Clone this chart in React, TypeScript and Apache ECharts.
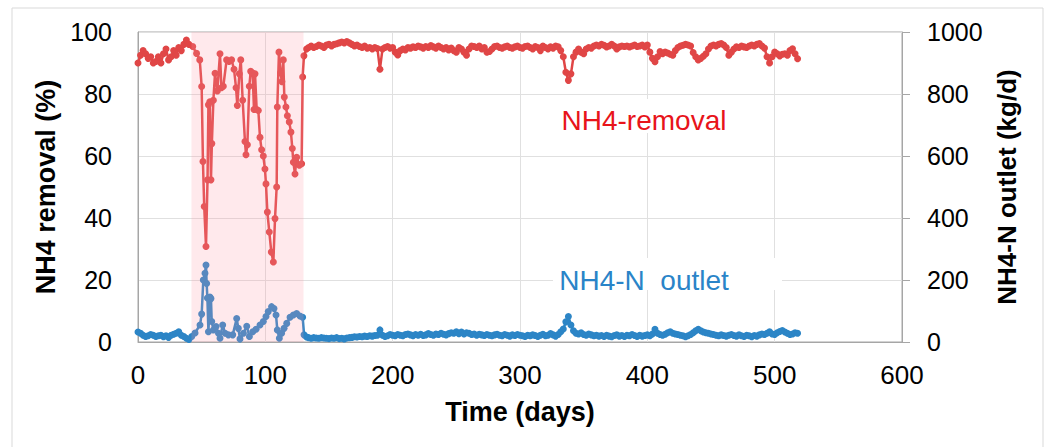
import React, { useEffect, useRef } from "react";
import * as echarts from "echarts";

// NH4 removal (%) – [day, value]
const removalPoints: [number, number][] = [
  [0, 90], [2, 92.5], [4, 94], [6, 93], [8, 91.5], [10, 92], [12, 90], [14, 90.5], [16, 92], [18, 90],
  [20, 93], [22, 94.5], [24, 91], [26, 92], [28, 94], [30, 92.5], [32, 95], [34, 94], [36, 96], [38, 97.4], [40, 96],
  [43, 95.3], [46, 93.1], [48.5, 91], [50, 82.4], [51, 58.2], [52, 43.7], [53.4, 30.8], [54.6, 52.3], [55.3, 76.5],
  [56.4, 77.5], [57.3, 52.3], [58, 64], [59.2, 78], [60.5, 86.7], [62.3, 81], [64.4, 93], [65.5, 82], [67, 82.5],
  [69.6, 91], [71.5, 90.5], [73.5, 91], [75.4, 88], [77, 82], [78, 76.3], [79.6, 86.5], [80.7, 91], [82.2, 78],
  [84, 64.7], [84.8, 60.4], [85.9, 63.6], [87.4, 82.5], [88.5, 87.3], [90, 86.8], [91.1, 75], [91.9, 86.5],
  [93.2, 75], [94.5, 74.7], [95.8, 66], [97.1, 62], [98.4, 60], [99.7, 55.8], [100.5, 51], [101.6, 41.9],
  [103.1, 35.5], [104.7, 29], [106.3, 25.8], [107.6, 39.8], [108.9, 50], [109.4, 75.8], [110.7, 93.5], [112, 86.8],
  [113, 84], [114.1, 91], [114.9, 79], [116.2, 75.8], [117.3, 73], [118.8, 71], [120.1, 67.7], [121.2, 62.4],
  [122, 58], [123.3, 54.2], [124.6, 59.6], [126.7, 57], [128.5, 57.5], [129.3, 85.5], [130.3, 92.3], [132.4, 94.5],
  [134, 95], [136, 95.5], [138, 95], [140, 95.3], [142, 95.8], [144, 95.5], [146, 95], [148, 95.8], [150, 96],
  [152, 95.5], [154, 96], [156, 96.2], [158, 96.5], [160, 96.8], [162, 96.5], [164, 96.9], [166, 96.5], [168, 96],
  [170, 95.5], [172, 95.8], [174, 95.3], [176, 95], [178, 95.5], [180, 94.8], [182, 95], [184, 94.5], [186, 95],
  [188, 94.7], [190, 88], [192, 94.5], [194, 95], [196, 95.3], [198, 94.8], [200, 95], [202, 93.5], [204, 92.6],
  [206, 94], [208, 94.5], [210, 94.2], [212, 95], [214, 94.8], [216, 95.2], [218, 95], [220, 95.5], [222, 95.2],
  [224, 94.8], [226, 95.3], [228, 95], [230, 95.6], [232, 95.2], [234, 94.8], [236, 95.5], [238, 95], [240, 94.5],
  [242, 95], [244, 94.2], [246, 94.8], [248, 94], [250, 93.5], [252, 95], [254, 94.5], [256, 93.5], [258, 92.5],
  [260, 94.5], [262, 95.5], [264, 95.3], [266, 95], [268, 95.5], [270, 94.5], [272, 95], [274, 93.5], [276, 93.7],
  [278, 94.5], [280, 95.3], [282, 95.5], [284, 95], [286, 94.8], [288, 95.2], [290, 95.5], [292, 95], [294, 94.8],
  [296, 95.2], [298, 95.5], [300, 95], [302, 94.8], [304, 95.3], [306, 95.5], [308, 95], [310, 94.5], [312, 95.3],
  [314, 95], [316, 94], [318, 95.5], [320, 95], [322, 94.5], [324, 95.2], [326, 94.8], [328, 95.5], [330, 95.2],
  [332, 94], [334, 92], [336, 87], [338, 84.4], [340, 86.5], [342, 92], [344, 93.5], [346, 94.5], [348, 93.5],
  [350, 93], [352, 94.5], [354, 95], [356, 94.8], [358, 95.5], [360, 95.8], [362, 95.5], [364, 96], [366, 95.7],
  [368, 95.2], [370, 95.5], [372, 96], [374, 95.5], [376, 94.5], [378, 95.2], [380, 95.5], [382, 95.3], [384, 95.5],
  [386, 95.2], [388, 95.5], [390, 95.8], [392, 95.3], [394, 95.5], [396, 95.8], [398, 95.2], [400, 95.8], [402, 93.5],
  [404, 91.5], [406, 90.4], [408, 92], [410, 93.7], [412, 93], [414, 93.5], [416, 93.2], [418, 92.8], [420, 92.5],
  [422, 94], [424, 95], [426, 95.5], [428, 95.7], [430, 96], [432, 95.8], [434, 95.5], [436, 93.4], [438, 92],
  [440, 91], [442, 91.5], [444, 92.2], [446, 93], [448, 94.5], [450, 95.5], [452, 95.8], [454, 95.5], [456, 96],
  [458, 96.3], [460, 95.8], [462, 95], [464, 92.5], [466, 93.5], [468, 94.5], [470, 95.2], [472, 95], [474, 95.5],
  [476, 95.2], [478, 95], [480, 95.5], [482, 95.8], [484, 95.5], [486, 96], [488, 96.3], [490, 95.5], [492, 94.8],
  [494, 92], [496, 90], [498, 92], [500, 93.5], [502, 93], [504, 92.3], [506, 92.8], [508, 93], [510, 92.5],
  [512, 94], [514, 94.6], [516, 93], [518, 91.4],
];

// NH4-N outlet (kg/d) – [day, value]
const outletPoints: [number, number][] = [
  [0, 32], [2, 28], [4, 22], [6, 18], [8, 20], [10, 24], [12, 22], [14, 18], [16, 20], [18, 22], [20, 17],
  [22, 20], [24, 15], [26, 22], [28, 25], [30, 28], [32, 33], [34, 22], [36, 18], [38, 12], [40, 8],
  [42.2, 18], [44.8, 29], [48.7, 55], [50, 90], [51.3, 200], [52.6, 222], [53.4, 248], [53.9, 189], [54.5, 142],
  [55.3, 33], [56.5, 145], [57.3, 140], [57.9, 66], [59.2, 39], [61.3, 50], [63.2, 28], [64.4, 12], [66.5, 55],
  [68.4, 28], [71, 23], [74.4, 23], [77.5, 76], [78.8, 44], [80.1, 10], [82.8, 28], [85.4, 51], [87.5, 18],
  [90.1, 33], [92.7, 41], [95.8, 55], [98.4, 66], [100.5, 82], [102.3, 98], [104.9, 114], [106.8, 108],
  [108.4, 87], [109.4, 39], [111, 12], [112.8, 28], [114.7, 44], [116.8, 60], [119.4, 80], [122, 87],
  [124.6, 92], [127.2, 84], [129.3, 80], [130.4, 23], [132.4, 16],
  [134, 14], [136, 12], [138, 14], [140, 13], [142, 12], [144, 14], [146, 13], [148, 12], [150, 11], [152, 13],
  [154, 12], [156, 14], [158, 11], [160, 12], [162, 10], [164, 13], [166, 14], [168, 15], [170, 17], [172, 16],
  [174, 18], [176, 17], [178, 19], [180, 18], [182, 20], [184, 19], [186, 21], [188, 22], [190, 39], [192, 22],
  [194, 18], [196, 20], [198, 24], [200, 22], [202, 20], [204, 24], [206, 22], [208, 20], [210, 24], [212, 26],
  [214, 23], [216, 20], [218, 24], [220, 22], [222, 25], [224, 21], [226, 23], [228, 27], [230, 24], [232, 22],
  [234, 26], [236, 24], [238, 28], [240, 25], [242, 23], [244, 27], [246, 30], [248, 28], [250, 33], [252, 27],
  [254, 32], [256, 26], [258, 30], [260, 28], [262, 24], [264, 26], [266, 22], [268, 25], [270, 23], [272, 21],
  [274, 24], [276, 22], [278, 20], [280, 23], [282, 25], [284, 22], [286, 20], [288, 24], [290, 22], [292, 19],
  [294, 23], [296, 21], [298, 24], [300, 22], [302, 20], [304, 18], [306, 22], [308, 20], [310, 23], [312, 21],
  [314, 18], [316, 22], [318, 25], [320, 20], [322, 22], [324, 27], [326, 23], [328, 19], [330, 24], [332, 33],
  [334, 42], [336, 65], [338, 82], [340, 55], [342, 36], [344, 28], [346, 26], [348, 30], [350, 24], [352, 22],
  [354, 26], [356, 23], [358, 20], [360, 22], [362, 19], [364, 21], [366, 18], [368, 22], [370, 19], [372, 17],
  [374, 21], [376, 23], [378, 19], [380, 21], [382, 18], [384, 22], [386, 20], [388, 24], [390, 21], [392, 18],
  [394, 22], [396, 19], [398, 21], [400, 23], [402, 20], [404, 26], [406, 41], [408, 28], [410, 24], [412, 22],
  [414, 25], [416, 30], [418, 33], [420, 28], [422, 26], [424, 24], [426, 22], [428, 20], [430, 17], [432, 20],
  [434, 24], [436, 30], [438, 36], [440, 41], [442, 36], [444, 32], [446, 30], [448, 28], [450, 26], [452, 24],
  [454, 22], [456, 20], [458, 23], [460, 21], [462, 19], [464, 22], [466, 24], [468, 21], [470, 19], [472, 23],
  [474, 20], [476, 18], [478, 22], [480, 20], [482, 17], [484, 21], [486, 19], [488, 23], [490, 26], [492, 24],
  [494, 28], [496, 33], [498, 26], [500, 24], [502, 30], [504, 34], [506, 37], [508, 32], [510, 28], [512, 24],
  [514, 26], [516, 30], [518, 28],
];

// shaded disturbance period (days) spanning the full removal range
const shadedPeriod = [42, 130];
const shadeTop = 100;
const xRange = { min: 0, max: 600, interval: 100 };
const leftRange = { min: 0, max: 100, interval: 20 };
const rightRange = { min: 0, max: 1000, interval: 200 };

const RED = "#e04646";
const BLUE = "#2c85c6";
const AXIS_GRAY = "#a6a6a6";
const GRID_GRAY = "#e0e0e0";
const FONT = "'Liberation Sans', Arial, sans-serif";

export default function App() {
  const ref = useRef<HTMLDivElement>(null);
  useEffect(() => {
    document.body.style.margin = "0";
    if (!ref.current) return;
    const chart = echarts.init(ref.current, undefined, { renderer: "svg" });
    chart.setOption({
      animation: false,
      backgroundColor: "#ffffff",
      textStyle: { fontFamily: FONT },
      grid: {
        left: 138, right: 144, top: 32, bottom: 105,
        show: true, borderColor: AXIS_GRAY, borderWidth: 1,
      },
      xAxis: {
        type: "value", ...xRange,
        name: "Time (days)", nameLocation: "middle", nameGap: 56,
        nameTextStyle: { fontSize: 27, fontWeight: "bold", color: "#000", fontFamily: FONT },
        axisLine: { show: true, lineStyle: { color: AXIS_GRAY } },
        axisTick: { show: false },
        axisLabel: { fontSize: 26, color: "#000", margin: 20, fontFamily: FONT },
        splitLine: { show: true, lineStyle: { color: GRID_GRAY, width: 1 } },
      },
      yAxis: [
        {
          type: "value", ...leftRange, position: "left",
          name: "NH4 removal (%)", nameLocation: "middle", nameRotate: 90, nameGap: 76,
          nameTextStyle: { fontSize: 27, fontWeight: "bold", color: "#000", fontFamily: FONT },
          axisLine: { show: true, lineStyle: { color: AXIS_GRAY } },
          axisTick: { show: false },
          axisLabel: { fontSize: 25, color: "#000", margin: 26, fontFamily: FONT },
          splitLine: { show: true, lineStyle: { color: GRID_GRAY, width: 1 } },
        },
        {
          type: "value", ...rightRange, position: "right",
          name: "NH4-N outlet (kg/d)", nameLocation: "middle", nameRotate: 90, nameGap: 91,
          nameTextStyle: { fontSize: 26, fontWeight: "bold", color: "#000", fontFamily: FONT },
          axisLine: { show: true, lineStyle: { color: AXIS_GRAY } },
          axisTick: { show: true, inside: false, length: 8, lineStyle: { color: AXIS_GRAY } },
          axisLabel: {
            fontSize: 25, color: "#000", margin: 25, fontFamily: FONT,
            formatter: (v: number) => String(v),
          },
          splitLine: { show: false },
        },
      ],
      series: [
        {
          name: "NH4-removal", type: "line", yAxisIndex: 0, z: 2,
          data: removalPoints,
          symbol: "circle", symbolSize: 7, showSymbol: true,
          lineStyle: { color: RED, width: 2.5 },
          itemStyle: { color: RED },
        },
        {
          name: "NH4-N outlet", type: "line", yAxisIndex: 1, z: 2,
          data: outletPoints,
          symbol: "circle", symbolSize: 7, showSymbol: true,
          lineStyle: { color: BLUE, width: 2.5 },
          itemStyle: { color: BLUE },
        },
        {
          name: "shade", type: "line", yAxisIndex: 0, z: 6, silent: true,
          data: [[shadedPeriod[0], shadeTop], [shadedPeriod[1], shadeTop]],
          symbol: "none", showSymbol: false,
          lineStyle: { width: 0, opacity: 0 },
          areaStyle: { color: "rgba(255,150,165,0.3)", origin: "start" },
        },
      ],
      graphic: [
        {
          type: "rect", z: 0, silent: true,
          shape: { x: 12, y: 8, width: 1031, height: 460 },
          style: { fill: "none", stroke: "#d9d9d9", lineWidth: 1 },
        },
        {
          type: "rect", z: 10, silent: true,
          shape: { x: 550, y: 99, width: 190, height: 34 },
          style: { fill: "#ffffff" },
        },
        {
          type: "text", z: 11, x: 644, y: 120, silent: true,
          style: {
            text: "NH4-removal", fill: "#e8141a", font: `28px ${FONT}`,
            align: "center", verticalAlign: "middle",
          },
        },
        {
          type: "rect", z: 10, silent: true,
          shape: { x: 553, y: 258, width: 229, height: 32 },
          style: { fill: "#ffffff" },
        },
        {
          type: "text", z: 11, x: 644, y: 280, silent: true,
          style: {
            text: "NH4-N  outlet", fill: "#2a84c8", font: `28px ${FONT}`,
            align: "center", verticalAlign: "middle",
          },
        },
      ],
    });
    return () => chart.dispose();
  }, []);
  return <div ref={ref} style={{ width: 1046, height: 447 }} />;
}
